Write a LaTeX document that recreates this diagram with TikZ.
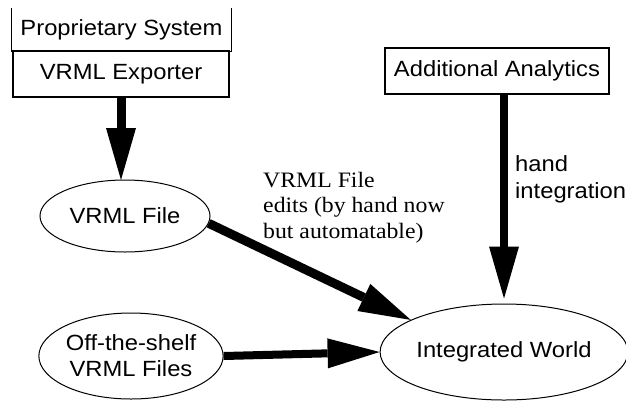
\documentclass[tikz,border=0pt]{standalone}
\usepackage{fontspec}
\setmainfont{Liberation Serif}[FakeStretch=1.08]
\newfontfamily\diasans{Liberation Sans}[FakeStretch=1.08]
\usetikzlibrary{arrows.meta,shapes.geometric}
\begin{document}
\begin{tikzpicture}[x=1pt,y=-1pt,
  sanstext/.style={font=\diasans\fontsize{22}{26}\selectfont},
  boxnode/.style={sanstext,draw,line width=1.2pt,inner sep=0pt,minimum height=46pt},
  ellnode/.style={sanstext,draw,ellipse,line width=1pt,inner sep=0pt,align=center},
  bigarrow/.style={line width=9pt,-{Triangle[length=52pt,width=30pt,line width=0pt]}},
  labeltext/.style={font=\fontsize{22}{25.5}\selectfont,align=left,inner sep=0pt}]
\useasboundingbox[fill=white] (0,0) rectangle (626,400);

\node[sanstext,inner sep=0pt,minimum width=219pt,minimum height=43pt] (prop) at (121.5,29.5) {Proprietary System};
\draw[line width=1.2pt] (prop.north west) -- (prop.south west) -- (prop.south east) -- (prop.north east);
\node[boxnode,minimum width=216pt] (exp) at (121,74) {VRML Exporter};
\node[boxnode,minimum width=224pt] (aa) at (497,71) {Additional Analytics};

\node[ellnode,minimum width=170pt,minimum height=72pt] (vf) at (125,216) {VRML File};
\node[ellnode,minimum width=182pt,minimum height=86pt] (ots) at (131,356) {Off-the-shelf\\VRML Files};
\node[ellnode,minimum width=218pt,minimum height=96pt] (iw) at (504,352) {Integrated World};

\draw[bigarrow] (exp.south -| 121,0) -- (121,180);
\draw[bigarrow,line width=8pt,shorten >=5pt] (iw.north |- aa.south) -- (iw.north);
\draw[bigarrow,line width=9pt] (vf.-5) -- (iw.161);
\draw[bigarrow,line width=8pt] (ots.east) -- (iw.west);

\node[labeltext,anchor=north west] (lbl) at (263,172) {VRML File\\edits (by hand now\\but automatable)};
\node[sanstext,align=left,inner sep=0pt,anchor=north west,font=\diasans\fontsize{22}{27}\selectfont] (hand) at (515,155) {hand\\integration};
\end{tikzpicture}
\end{document}
